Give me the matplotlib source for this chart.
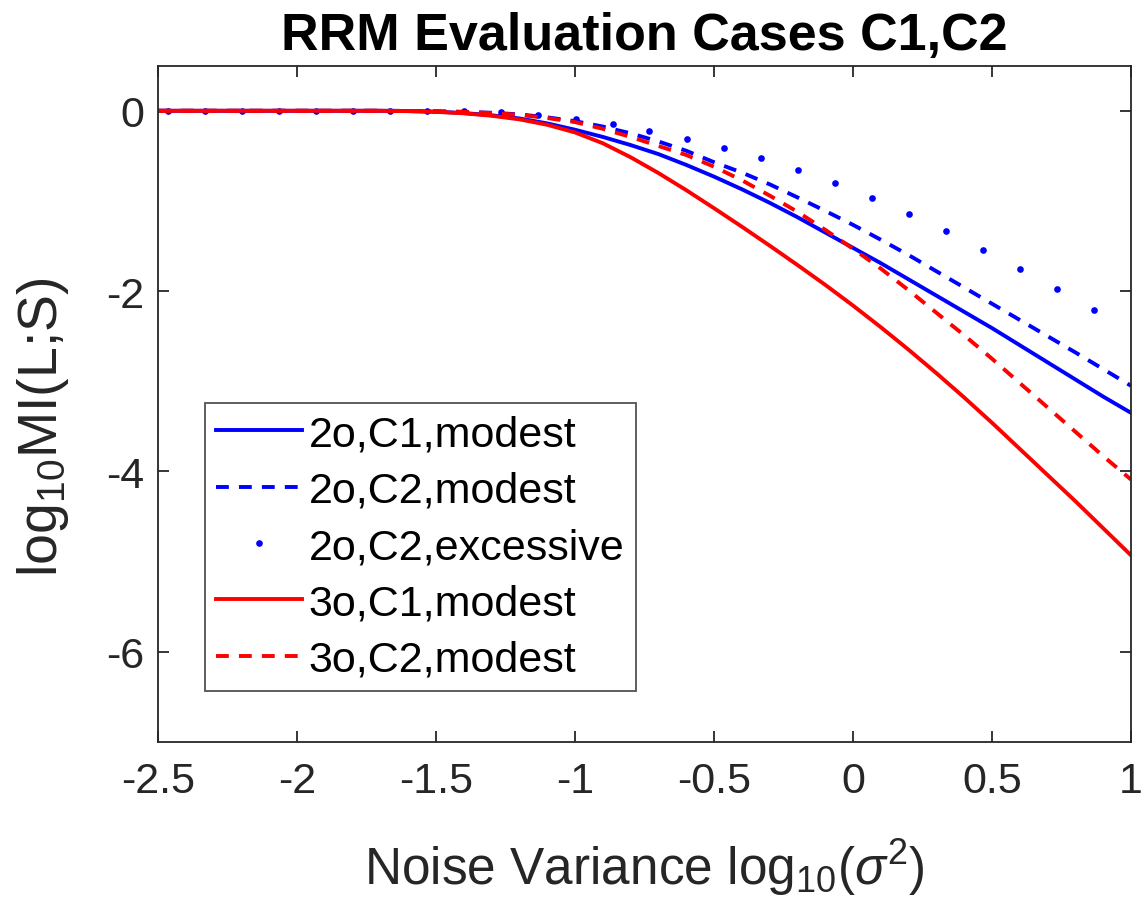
import matplotlib
matplotlib.use("Agg")
import matplotlib.pyplot as plt

plt.rcParams['font.family'] = ['Liberation Sans', 'DejaVu Sans']
plt.rcParams['mathtext.fontset'] = 'custom'
plt.rcParams['mathtext.rm'] = 'Liberation Sans'
plt.rcParams['mathtext.it'] = 'Liberation Sans:italic'

# ---- data ----
x_curve = [-2.5, -2.0, -1.8, -1.7, -1.6, -1.5, -1.4, -1.3, -1.2, -1.1, -1.0, -0.9, -0.8,
           -0.7, -0.6, -0.5, -0.4, -0.3, -0.2, -0.1, 0.0, 0.1, 0.2, 0.3, 0.4, 0.5,
           0.6, 0.7, 0.8, 0.9, 1.0]

y_2o_c1_modest = [0.0, 0.0, 0.0, 0.0, -0.003, -0.01, -0.025, -0.05, -0.085, -0.14, -0.21,
                  -0.29, -0.38, -0.48, -0.60, -0.73, -0.87, -1.02, -1.18, -1.35, -1.52,
                  -1.69, -1.87, -2.05, -2.23, -2.41, -2.60, -2.79, -2.98, -3.17, -3.35]

y_2o_c2_modest = [0.0, 0.0, 0.0, 0.0, -0.002, -0.005, -0.012, -0.022, -0.04, -0.073, -0.115,
                  -0.175, -0.25, -0.34, -0.443, -0.57, -0.685, -0.815, -0.96, -1.11, -1.265,
                  -1.43, -1.60, -1.78, -1.96, -2.14, -2.32, -2.50, -2.68, -2.865, -3.05]

y_3o_c1_modest = [0.0, 0.0, 0.0, 0.0, -0.004, -0.012, -0.028, -0.055, -0.095, -0.155, -0.24,
                  -0.36, -0.515, -0.69, -0.88, -1.08, -1.285, -1.495, -1.71, -1.93, -2.16,
                  -2.40, -2.65, -2.91, -3.18, -3.46, -3.75, -4.04, -4.33, -4.63, -4.93]

y_3o_c2_modest = [0.0, 0.0, 0.0, 0.0, -0.002, -0.005, -0.013, -0.025, -0.045, -0.08, -0.125,
                  -0.20, -0.29, -0.39, -0.49, -0.62, -0.77, -0.94, -1.12, -1.32, -1.53,
                  -1.75, -1.99, -2.24, -2.49, -2.75, -3.02, -3.29, -3.56, -3.83, -4.09]

x_excessive = [-2.465, -2.332, -2.198, -2.065, -1.932, -1.798, -1.665, -1.532, -1.398,
               -1.265, -1.132, -0.998, -0.865, -0.732, -0.598, -0.465, -0.332, -0.198,
               -0.065, 0.068, 0.202, 0.335, 0.468, 0.602, 0.735, 0.868]
y_excessive = [0.0, 0.0, 0.0, 0.0, 0.0, 0.0, 0.0, -0.002, -0.005, -0.018, -0.048, -0.092,
               -0.150, -0.228, -0.313, -0.413, -0.527, -0.657, -0.801, -0.964, -1.145,
               -1.337, -1.541, -1.758, -1.979, -2.210]

x_ticks = [-2.5, -2, -1.5, -1, -0.5, 0, 0.5, 1]
x_ticklabels = ['-2.5', '-2', '-1.5', '-1', '-0.5', '0', '0.5', '1']
y_ticks = [-6, -4, -2, 0]
y_ticklabels = ['-6', '-4', '-2', '0']

labels = ['2o,C1,modest', '2o,C2,modest', '2o,C2,excessive', '3o,C1,modest', '3o,C2,modest']

# ---- figure ----
fig = plt.figure(figsize=(11.42, 9.2), dpi=100)
ax = fig.add_axes([0.1383, 0.1924, 0.8521, 0.7351])

lw = 2.8
dash = (3.3, 2.6)
ax.plot(x_curve, y_2o_c1_modest, color='#0000ff', lw=lw, label=labels[0])
ax.plot(x_curve, y_2o_c2_modest, color='#0000ff', lw=lw, dashes=dash, label=labels[1])
ax.plot(x_excessive, y_excessive, color='#0000ff', ls='none', marker='o', ms=4.8,
        mew=0, label=labels[2])
ax.plot(x_curve, y_3o_c1_modest, color='#ff0000', lw=lw, label=labels[3])
ax.plot(x_curve, y_3o_c2_modest, color='#ff0000', lw=lw, dashes=dash, label=labels[4])

ax.set_xlim(-2.5, 1)
ax.set_ylim(-7, 0.5)
ax.set_xticks(x_ticks)
ax.set_xticklabels(x_ticklabels)
ax.set_yticks(y_ticks)
ax.set_yticklabels(y_ticklabels)

axcol = '#262626'
for s in ax.spines.values():
    s.set_color(axcol)
    s.set_linewidth(1.3)
ax.tick_params(direction='in', length=8, width=1.3, color=axcol, labelcolor=axcol,
               labelsize=31, top=True, right=True)
ax.tick_params(axis='x', pad=14)
ax.tick_params(axis='y', pad=10)

ax.set_title('RRM Evaluation Cases C1,C2', fontsize=37.5, fontweight='bold', pad=12)
ax.set_xlabel(r'Noise Variance log$_{10}$($\sigma^2$)', fontsize=37, color=axcol, labelpad=25)
ax.set_ylabel(r'log$_{10}$MI(L;S)', fontsize=40, color=axcol)
ax.yaxis.set_label_coords((71 - 158) / 973, (743 - 427) / 676)

leg = ax.legend(loc='lower left', bbox_to_anchor=(205 / 1142, (920 - 692) / 920),
                bbox_transform=fig.transFigure, fontsize=31, frameon=True, fancybox=False,
                edgecolor=axcol, handlelength=2.0, handletextpad=0.15, labelspacing=0.38,
                borderpad=0.26, borderaxespad=0, markerscale=1.0)
leg.get_frame().set_linewidth(1.3)

fig.savefig('out.png', dpi=100, facecolor='white')
